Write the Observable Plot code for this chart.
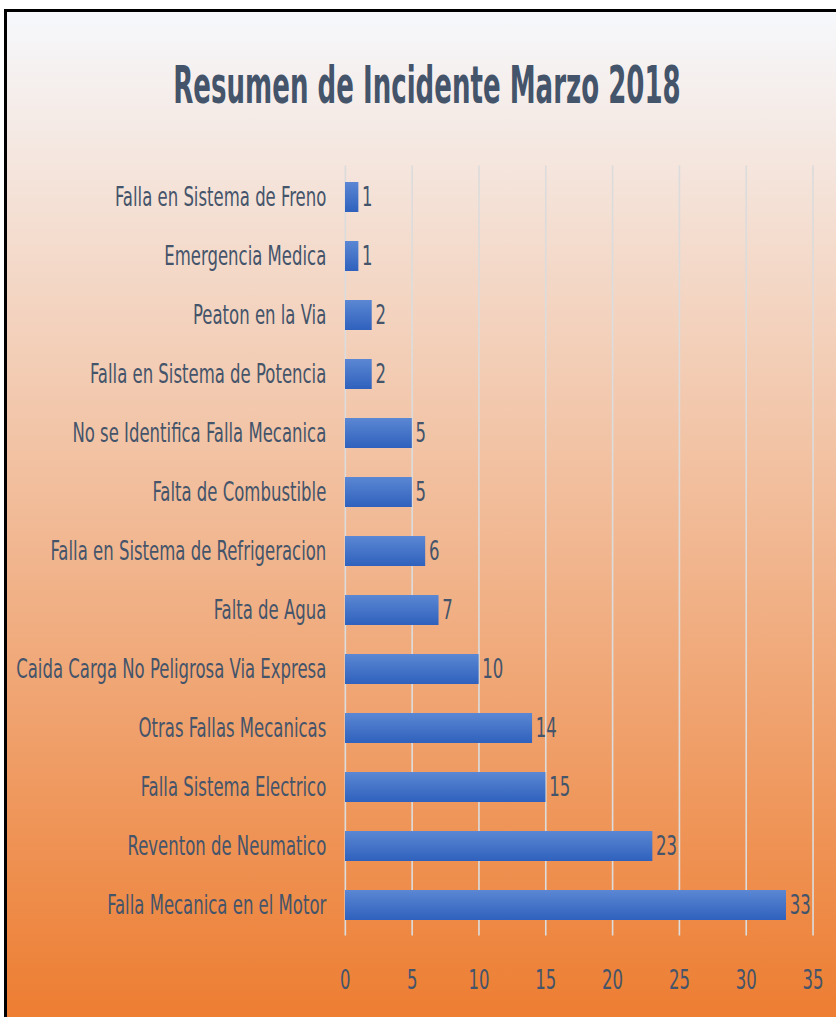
<!DOCTYPE html>
<html>
<head>
<meta charset="utf-8">
<script src="https://cdn.jsdelivr.net/npm/d3@7"></script>
<script src="https://cdn.jsdelivr.net/npm/@observablehq/plot@0.6"></script>
<style>
  html, body { margin: 0; padding: 0; width: 836px; height: 1017px; overflow: hidden; background: #ffffff; }
  #frame { position: absolute; left: 4px; top: 9px; width: 900px; height: 1008px;
    border-left: 3px solid #000; border-top: 3px solid #000;
    background: linear-gradient(to bottom, #f6f8fc 0%, #ed7d31 100%); }
  #title { position: absolute; left: 427px; top: 59px; white-space: nowrap;
    font-family: "DejaVu Sans Condensed", "Liberation Sans Narrow", sans-serif;
    font-weight: bold; font-size: 52px; line-height: 52px; color: #44546A;
    transform: translateX(-50%) scaleX(0.557); }
  #chart { position: absolute; left: 0; top: 130px; transform-origin: 0 0; transform: scaleX(0.68); }
  #chart svg { max-width: none !important; height: 887px !important; }
</style>
</head>
<body>
<div id="frame"></div>
<div id="title">Resumen de Incidente Marzo 2018</div>
<div id="chart"></div>
<script>
const categories = [
  "Falla en Sistema de Freno",
  "Emergencia Medica",
  "Peaton en la Via",
  "Falla en Sistema de Potencia",
  "No se Identifica Falla Mecanica",
  "Falta de Combustible",
  "Falla en Sistema de Refrigeracion",
  "Falta de Agua",
  "Caida Carga No Peligrosa Via Expresa",
  "Otras Fallas Mecanicas",
  "Falla Sistema Electrico",
  "Reventon de Neumatico",
  "Falla Mecanica en el Motor"
];
const values = [1, 1, 2, 2, 5, 5, 6, 7, 10, 14, 15, 23, 33];
const xTicks = [0, 5, 10, 15, 20, 25, 30, 35];

const data = categories.map((c, i) => ({category: c, value: values[i]}));

const S = 0.68;
const W = 836 / S;
const textColor = "#44546A";
const font = '"DejaVu Sans Condensed", "Liberation Sans Narrow", sans-serif';

const plot = Plot.plot({
  width: W,
  height: 887,
  marginLeft: 345 / S,
  marginRight: W - 812.7 / S,
  marginTop: 35.4,
  marginBottom: 81.4,
  style: {background: "transparent", color: textColor, fontFamily: font, overflow: "visible", maxWidth: "none"},
  x: {domain: [0, 35], label: null},
  y: {domain: categories, label: null, paddingInner: 0.5, paddingOuter: 0.25},
  marks: [
    Plot.gridX(xTicks, {stroke: "#dcdcdc", strokeOpacity: 1, strokeWidth: 2.4}),
    Plot.barX(data, {x: "value", y: "category", fill: "#3f6fca"}),
    Plot.text(data, {x: "value", y: "category", text: d => String(d.value), textAnchor: "start", dx: 5, fontSize: 27, fill: textColor}),
    Plot.axisX({ticks: xTicks, tickSize: 0, tickPadding: 34, fontSize: 27, fill: textColor}),
    Plot.axisY({tickSize: 0, tickPadding: 28, fontSize: 27, fill: textColor})
  ]
});

// bar gradient
const svg = d3.select(plot);
const defs = svg.insert("defs", ":first-child");
const grad = defs.append("linearGradient").attr("id", "barGrad")
  .attr("x1", 0).attr("y1", 0).attr("x2", 0).attr("y2", 1);
grad.append("stop").attr("offset", "0%").attr("stop-color", "#5b87d3");
grad.append("stop").attr("offset", "100%").attr("stop-color", "#2f61bd");
svg.selectAll('g[aria-label="bar"] rect').attr("fill", "url(#barGrad)");

document.getElementById("chart").appendChild(plot);
</script>
</body>
</html>
